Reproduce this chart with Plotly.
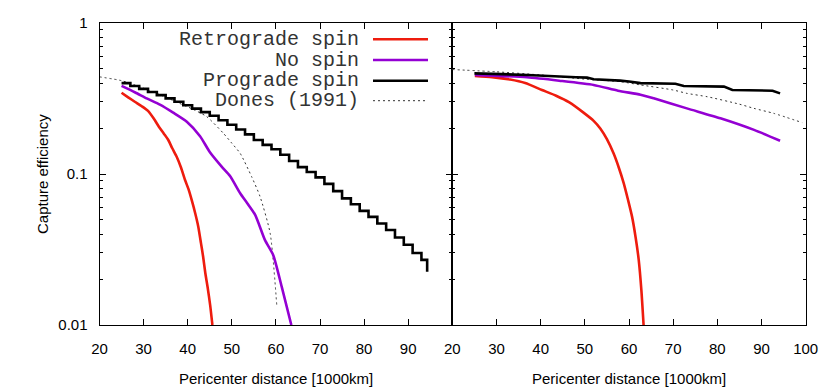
import plotly.graph_objects as go

# ---------------- data ----------------
# Left panel
retro_L_x = [25.0, 26.5, 28.0, 29.5, 31.0, 32.3, 33.5, 34.6, 35.6, 36.5, 37.5, 38.5, 39.4,
             40.2, 40.9, 41.7, 42.4, 43.0, 43.5, 44.0, 44.5, 45.1, 45.6]
retro_L_y = [0.345, 0.322, 0.301, 0.282, 0.262, 0.233, 0.205, 0.185, 0.168, 0.148, 0.130,
             0.110, 0.0912, 0.079, 0.0673, 0.055, 0.0448, 0.035, 0.0283, 0.022, 0.0179,
             0.0135, 0.01]

nospin_L_x = [25.0, 28.0, 30.7, 33.7, 36.7, 39.8, 42.8, 45.0, 47.7, 49.6, 51.9, 53.5, 55.3,
              57.5, 59.4, 61.3, 63.5]
nospin_L_y = [0.383, 0.348, 0.317, 0.288, 0.255, 0.222, 0.178, 0.140, 0.112, 0.097, 0.0745,
              0.064, 0.0536, 0.0366, 0.029, 0.018, 0.01]

pro_L_x = [25, 27, 29, 31, 33, 35, 37, 39, 41, 43, 45, 47, 49, 51, 53, 55, 57, 59, 61, 63,
           65, 67, 69, 71, 73, 75, 77, 79, 81, 83, 85, 87, 89, 91, 93, 94.3]
pro_L_y = [0.40, 0.383, 0.366, 0.349, 0.333, 0.317, 0.301, 0.285, 0.271, 0.257, 0.243, 0.227,
           0.212, 0.197, 0.183, 0.168, 0.156, 0.146, 0.134, 0.122, 0.111, 0.103, 0.095, 0.086,
           0.077, 0.069, 0.063, 0.057, 0.052, 0.047, 0.0426, 0.038, 0.034, 0.030, 0.027, 0.0225]

dones_L_x = [20, 25, 30, 33.7, 38, 41, 44.3, 48.1, 50, 51.9, 54.5, 56.4, 58.7, 60.2]
dones_L_y = [0.44, 0.415, 0.37, 0.335, 0.295, 0.27, 0.24, 0.186, 0.16, 0.137, 0.096, 0.071,
             0.0405, 0.0135]

# Right panel
retro_R_x = [25.1, 29, 33.1, 36.5, 40.3, 43.5, 46.5, 49.7, 52, 53.5, 55, 56.5, 57.7, 58.8,
             59.8, 60.7, 61.5, 62.2, 62.8, 63.3]
retro_R_y = [0.446, 0.438, 0.422, 0.40, 0.36, 0.33, 0.298, 0.255, 0.225, 0.2, 0.17, 0.137,
             0.11, 0.087, 0.067, 0.052, 0.038, 0.027, 0.017, 0.01]

nospin_R_x = [25.1, 36.9, 44.2, 52, 57.5, 62.6, 65.6, 73.1, 80.7, 88.3, 94.2]
nospin_R_y = [0.453, 0.437, 0.415, 0.389, 0.356, 0.335, 0.317, 0.272, 0.234, 0.196, 0.166]

pro_R_x = [25, 37, 48, 50.5, 52, 56, 58, 60, 62.6, 70.5, 72.4, 81.5, 83.4, 92.5, 94.2]
pro_R_y = [0.464, 0.453, 0.437, 0.435, 0.424, 0.42, 0.415, 0.41, 0.40, 0.396, 0.383, 0.379,
           0.36, 0.356, 0.342]

dones_R_x = [20, 30, 39.9, 50, 58, 62.6, 70, 73.1, 77.7, 85, 88.3, 92.8, 99.2]
dones_R_y = [0.492, 0.475, 0.453, 0.425, 0.409, 0.389, 0.36, 0.342, 0.325, 0.29, 0.272,
             0.252, 0.219]

legend_labels = ["Retrograde spin", "No spin", "Prograde spin", "Dones (1991)"]
x_ticks_left = [20, 30, 40, 50, 60, 70, 80, 90]
x_ticks_right = [20, 30, 40, 50, 60, 70, 80, 90, 100]
y_ticks = [0.01, 0.1, 1]
y_tick_text = ["0.01", "0.1", "1"]
y_minor = [0.02, 0.03, 0.04, 0.05, 0.06, 0.07, 0.08, 0.09,
           0.2, 0.3, 0.4, 0.5, 0.6, 0.7, 0.8, 0.9]

# ---------------- style ----------------
RED = "#ee1c0e"
PURPLE = "#9400d3"
BLACK = "#000000"
DOT = "#333333"
LW = 2.6
OFF = 8                       # page body margin
W, H = 830 - OFF, 391 - OFF

def px(v):
    return (v - OFF) / W

def py(v):
    return 1 - (v - OFF) / H

fig = go.Figure()

def add(x, y, color, xa, ya, width=LW, dash=None, shape="spline"):
    line = dict(color=color, width=width, dash=dash, shape=shape)
    if shape == "spline":
        line["smoothing"] = 0.6
    fig.add_trace(go.Scatter(x=x, y=y, mode="lines", xaxis=xa, yaxis=ya, line=line,
                             showlegend=False, hoverinfo="skip"))

add(dones_L_x, dones_L_y, DOT, "x", "y", width=1, dash="2px,3px")
add(retro_L_x, retro_L_y, RED, "x", "y")
add(nospin_L_x, nospin_L_y, PURPLE, "x", "y")
add(pro_L_x, pro_L_y, BLACK, "x", "y", shape="hv")

add(dones_R_x, dones_R_y, DOT, "x2", "y2", width=1, dash="2px,3px")
add(retro_R_x, retro_R_y, RED, "x2", "y2")
add(nospin_R_x, nospin_R_y, PURPLE, "x2", "y2")
add(pro_R_x, pro_R_y, BLACK, "x2", "y2", shape="linear")

left_px, mid_px, right_px = 99.5, 452.3, 805.7
top_px, bot_px = 23, 325

tickfont = dict(family="Liberation Sans, Arial, sans-serif", size=15, color="black")

common_x = dict(range=[20, 100], showgrid=False, zeroline=False, showline=True,
                linecolor="black", linewidth=1, ticks="inside", ticklen=6,
                tickcolor="black", mirror="ticks", tickfont=tickfont,
                ticklabelstandoff=10, automargin=False)
common_y = dict(type="log", range=[-2, 0], showgrid=False, zeroline=False, showline=True,
                linecolor="black", linewidth=1, ticks="inside", ticklen=6,
                tickcolor="black", mirror="ticks", tickfont=tickfont,
                tickvals=y_ticks, ticktext=y_tick_text, ticklabelstandoff=8,
                minor=dict(tickvals=y_minor, ticks="inside", ticklen=3, tickcolor="black"),
                automargin=False)

fig.update_layout(
    width=W, height=H,
    margin=dict(l=0, r=0, t=0, b=0),
    paper_bgcolor="white", plot_bgcolor="white",
    xaxis=dict(common_x, domain=[px(left_px), px(mid_px)], tickvals=x_ticks_left, anchor="y"),
    xaxis2=dict(common_x, domain=[px(mid_px), px(right_px)], tickvals=x_ticks_right, anchor="y2"),
    yaxis=dict(common_y, domain=[py(bot_px), py(top_px)], anchor="x"),
    yaxis2=dict(common_y, domain=[py(bot_px), py(top_px)], anchor="x2",
                showticklabels=False, matches="y"),
    showlegend=False,
)

titlefont = dict(family="Liberation Sans, Arial, sans-serif", size=15, color="black")
annotations = [
    dict(text="Pericenter distance [1000km]", x=px((left_px + mid_px) / 2), y=py(378),
         xref="paper", yref="paper", showarrow=False, font=titlefont,
         xanchor="center", yanchor="middle"),
    dict(text="Pericenter distance [1000km]", x=px((mid_px + right_px) / 2), y=py(378),
         xref="paper", yref="paper", showarrow=False, font=titlefont,
         xanchor="center", yanchor="middle"),
    dict(text="Capture efficiency", x=px(43), y=py(174), textangle=-90,
         xref="paper", yref="paper", showarrow=False, font=titlefont,
         xanchor="center", yanchor="middle"),
]

legend_rows = [39.3, 60.0, 80.7, 100.7]
legend_styles = [(RED, LW, None), (PURPLE, LW, None), (BLACK, LW, None), (DOT, 1, "2px,3px")]
legfont = dict(family="Liberation Mono, Courier New, monospace", size=20, color="#333333")
shapes = []
for lab, row, (col, w, dash) in zip(legend_labels, legend_rows, legend_styles):
    annotations.append(dict(text=lab, x=px(361), y=py(row), xref="paper", yref="paper",
                            showarrow=False, font=legfont, xanchor="right", yanchor="middle"))
    shapes.append(dict(type="line", xref="paper", yref="paper",
                       x0=px(373), x1=px(428), y0=py(row), y1=py(row),
                       line=dict(color=col, width=w, dash=dash)))

fig.update_layout(annotations=annotations, shapes=shapes)
fig.write_html("out.html")
